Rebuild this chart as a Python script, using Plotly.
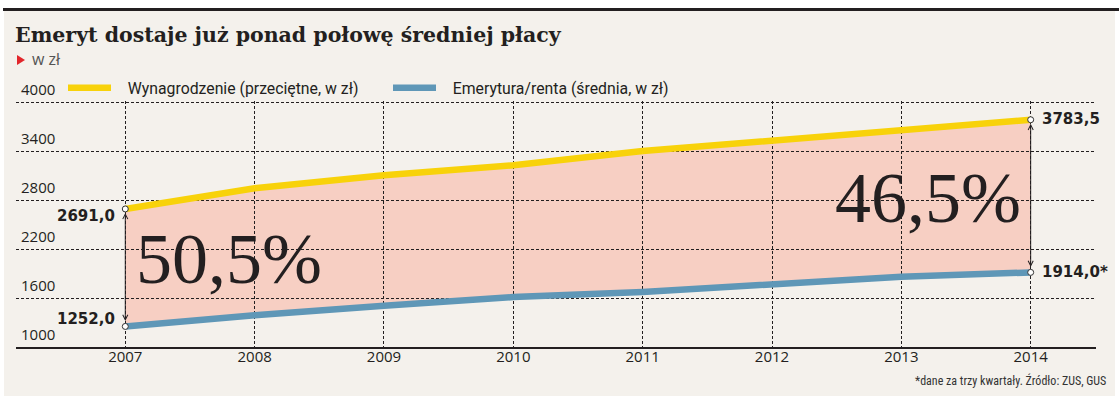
import plotly.graph_objects as go

# ---- data ----
years = [2007, 2008, 2009, 2010, 2011, 2012, 2013, 2014]
wage = [2691.0, 2943.9, 3103.0, 3225.0, 3399.5, 3521.7, 3650.1, 3783.5]
pension = [1252.0, 1390.0, 1505.0, 1612.0, 1675.0, 1770.0, 1860.0, 1914.0]
wage_name = "Wynagrodzenie (przeciętne, w zł)"
pension_name = "Emerytura/renta (średnia, w zł)"
y_ticks = [1000, 1600, 2200, 2800, 3400, 4000]
pct_labels = ["50,5%", "46,5%"]
pct_pos = [(2007.80, 2074), (2013.204, 2822)]
title_text = "Emeryt dostaje już ponad połowę średniej płacy"
unit_text = "w zł"
source_text = "*dane za trzy kwartały. Źródło: ZUS, GUS"

# ---- style ----
W, H = 1119, 396
L, R, T, B = 16, 1096, 101, 347
BEIGE = "#f4f1ec"
YELLOW = "#f8d20a"
BLUE = "#5f97b7"
PINK = "#f7cfc3"
INK = "#231f20"
GAP = "\u00a0\u00a0\u00a0"  # extra space between legend swatch and text


def px_x(px):
    return (px - L) / (R - L)


def px_y(py):
    return (B - py) / (B - T)


def fmt(v):
    return f"{v:.1f}".replace(".", ",")


fig = go.Figure()

# subplot 1: fill between the lines (drawn below the grid of subplot 2)
fig.add_trace(go.Scatter(x=years, y=pension, mode="lines", line=dict(width=0),
                         showlegend=False, hoverinfo="skip", xaxis="x", yaxis="y"))
fig.add_trace(go.Scatter(x=years, y=wage, mode="lines", line=dict(width=0),
                         fill="tonexty", fillcolor=PINK, showlegend=False,
                         hoverinfo="skip", xaxis="x", yaxis="y"))

# subplot 2: lines over the grid
fig.add_trace(go.Scatter(x=years, y=wage, mode="lines", name=GAP + wage_name,
                         line=dict(color=YELLOW, width=6.5), xaxis="x2", yaxis="y2"))
fig.add_trace(go.Scatter(x=years, y=pension, mode="lines", name=GAP + pension_name,
                         line=dict(color=BLUE, width=6.5), xaxis="x2", yaxis="y2"))
ends_x = [years[0], years[-1], years[0], years[-1]]
ends_y = [wage[0], wage[-1], pension[0], pension[-1]]
fig.add_trace(go.Scatter(x=ends_x, y=ends_y, mode="markers", showlegend=False,
                         marker=dict(size=6, color="white", line=dict(color="#333", width=1)),
                         xaxis="x2", yaxis="y2", hoverinfo="skip"))

xrange = [2006.155, 2014.505]
yrange = [1000, 4013]

fig.update_layout(
    xaxis=dict(range=xrange, domain=[0, 1], showgrid=False, zeroline=False,
               showticklabels=False),
    yaxis=dict(range=yrange, domain=[0, 1], showgrid=False, zeroline=False,
               showticklabels=False),
    xaxis2=dict(range=xrange, domain=[0, 1], anchor="y2",
                tickmode="array", tickvals=years, ticktext=[str(y) for y in years],
                showgrid=True, gridcolor=INK, gridwidth=1, griddash="3px,2px",
                zeroline=False, showline=True, linecolor=INK, linewidth=1.5,
                ticks="", tickfont=dict(family="Open Sans", size=15, color=INK),
                ticklabelstandoff=-5),
    yaxis2=dict(range=yrange, domain=[0, 1], anchor="x2",
                tickmode="array", tickvals=y_ticks,
                showgrid=True, gridcolor=INK, gridwidth=1, griddash="3px,2px",
                zeroline=False, showline=False, ticks="",
                ticklabelposition="inside", ticklabelshift=-12,
                ticklabelstandoff=2, ticklabeloverflow="allow",
                tickfont=dict(family="Open Sans", size=15, color=INK)),
)

shapes = [
    dict(type="rect", xref="paper", yref="paper", x0=px_x(4), x1=px_x(1115),
         y0=px_y(400), y1=px_y(11), fillcolor=BEIGE, line=dict(width=0), layer="below"),
    dict(type="rect", xref="paper", yref="paper", x0=px_x(3), x1=px_x(1125),
         y0=px_y(11), y1=px_y(8), fillcolor=INK, line=dict(width=0), layer="below"),
    dict(type="path", xref="paper", yref="paper",
         path=f"M{px_x(17)},{px_y(55)} L{px_x(25)},{px_y(60)} L{px_x(17)},{px_y(65)} Z",
         fillcolor="#e2262b", line=dict(width=0), layer="above"),
]

annotations = [
    dict(text=f"<b>{title_text}</b>", xref="paper", yref="paper", x=px_x(13), y=px_y(35.5),
         xanchor="left", yanchor="middle", showarrow=False,
         font=dict(family="DejaVu Serif", size=20.5, color=INK)),
    dict(text=unit_text, xref="paper", yref="paper", x=px_x(29.5), y=px_y(59),
         xanchor="left", yanchor="middle", showarrow=False,
         font=dict(family="Open Sans", size=16, color="#555")),
    dict(text=source_text, xref="paper", yref="paper", x=px_x(1108), y=px_y(380),
         xanchor="right", yanchor="middle", showarrow=False,
         font=dict(family="Liberation Sans Narrow, Roboto Condensed, Roboto", size=12, color="#333")),
]
for txt, (px_, py_) in zip(pct_labels, pct_pos):
    annotations.append(dict(text=txt, x=px_, y=py_, xref="x2", yref="y2", showarrow=False,
                            xanchor="center", yanchor="middle",
                            font=dict(family="Liberation Serif", size=72, color=INK)))

# value labels
annotations += [
    dict(text=f"<b>{fmt(wage[0])}</b>", x=years[0], y=wage[0], xref="x2", yref="y2",
         showarrow=False, xanchor="right", yanchor="middle", xshift=-8, yshift=-7,
         font=dict(family="DejaVu Sans", size=15, color=INK)),
    dict(text=f"<b>{fmt(pension[0])}</b>", x=years[0], y=pension[0], xref="x2", yref="y2",
         showarrow=False, xanchor="right", yanchor="middle", xshift=-8, yshift=7,
         font=dict(family="DejaVu Sans", size=15, color=INK)),
    dict(text=f"<b>{fmt(wage[-1])}</b>", x=years[-1], y=wage[-1], xref="x2", yref="y2",
         showarrow=False, xanchor="left", yanchor="middle", xshift=9, yshift=1,
         font=dict(family="DejaVu Sans", size=15, color=INK)),
    dict(text=f"<b>{fmt(pension[-1])}*</b>", x=years[-1], y=pension[-1], xref="x2", yref="y2",
         showarrow=False, xanchor="left", yanchor="middle", xshift=9, yshift=0,
         font=dict(family="DejaVu Sans", size=15, color=INK)),
]
# double-headed arrows between the series at both ends
for i in (0, -1):
    annotations.append(dict(text="", x=years[i], y=wage[i], ax=years[i], ay=pension[i],
                            xref="x2", yref="y2", axref="x2", ayref="y2",
                            showarrow=True, arrowside="end+start", arrowhead=5,
                            startarrowhead=5, arrowsize=1, startarrowsize=1,
                            arrowwidth=1, arrowcolor=INK, standoff=4, startstandoff=4))

fig.update_layout(
    width=W, height=H,
    margin=dict(l=L, r=W - R, t=T, b=H - B, pad=0),
    paper_bgcolor="white",
    plot_bgcolor="rgba(0,0,0,0)",
    shapes=shapes,
    annotations=annotations,
    showlegend=True,
    legend=dict(orientation="h", x=px_x(63), y=px_y(88), xanchor="left", yanchor="middle",
                traceorder="normal", itemwidth=43,
                bgcolor="rgba(0,0,0,0)", borderwidth=0,
                font=dict(family="Roboto", size=15.8, color=INK),
                entrywidth=267, entrywidthmode="pixels", itemclick=False,
                itemdoubleclick=False),
    hovermode=False,
)

fig.write_html("out.html", config={"displayModeBar": False},
               post_script="document.body.style.margin='0px';")
